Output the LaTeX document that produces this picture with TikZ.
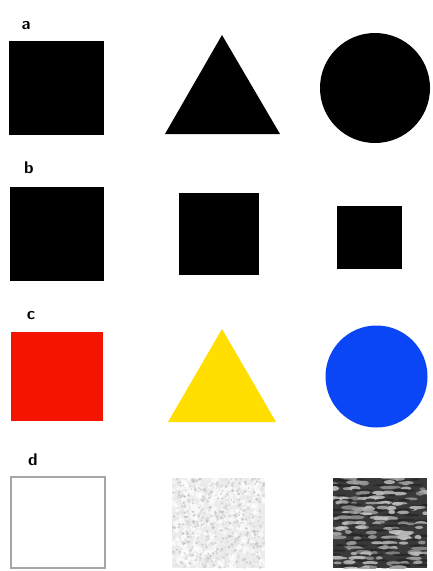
\documentclass[tikz,border=0pt]{standalone}
\begin{document}
\begin{tikzpicture}[x=1pt,y=-1pt,
  lbl/.style={font=\sffamily\bfseries\fontsize{17}{17}\selectfont, inner sep=0pt},
  solid/.style={fill=black}]
\useasboundingbox (0,0) rectangle (432,571);
\fill[white] (0,0) rectangle (432,571);
\definecolor{cred}{RGB}{245,20,0}
\definecolor{cyellow}{RGB}{255,222,0}
\definecolor{cblue}{RGB}{10,70,245}
% row a
\node[lbl] (la) at (26,26) {a};
\fill[solid] (9,41) rectangle (104,135);
\fill[solid] (222,35) -- (280,134) -- (165,134) -- cycle;
\fill[solid] (375,88) circle (55);
% row b
\node[lbl] (lb) at (29,168) {b};
\fill[solid] (10,187) rectangle (104,281);
\fill[solid] (179,193) rectangle (259,275);
\fill[solid] (337,206) rectangle (402,269);
% row c
\node[lbl] (lc) at (31,316) {c};
\fill[cred] (11,332) rectangle (103,421);
\fill[cyellow] (222,329) -- (276,422) -- (168,422) -- cycle;
\fill[cblue] (376.5,376.5) circle (51);
% row d
\node[lbl] (ld) at (33,460) {d};
\draw[gray!70, line width=1.3pt] (11,477) rectangle (105,568);
% noise square
\begin{scope}
\clip (172,478) rectangle (265,568);
\fill[gray!15] (172,478) rectangle (265,568);
\pgfmathsetseed{7}
\foreach \i in {1,...,250}{
  \pgfmathsetmacro{\px}{172+93*rnd}
  \pgfmathsetmacro{\py}{478+90*rnd}
  \pgfmathsetmacro{\pr}{1.5+2.0*rnd}
  \fill[white, opacity=0.6] (\px,\py) circle (\pr);
}
\foreach \i in {1,...,500}{
  \pgfmathsetmacro{\px}{172+93*rnd}
  \pgfmathsetmacro{\py}{478+90*rnd}
  \pgfmathsetmacro{\pr}{0.6+1.2*rnd}
  \pgfmathsetmacro{\pc}{22+30*rnd}
  \fill[gray!\pc, opacity=0.8] (\px,\py) circle (\pr);
}
\end{scope}
% dark texture square
\begin{scope}
\clip (333,478) rectangle (427,568);
\fill[gray!45!black] (333,478) rectangle (427,568);
\pgfmathsetseed{11}
\foreach \r in {0,...,18}{
  \foreach \k in {1,...,9}{
    \pgfmathsetmacro{\px}{333+94*rnd}
    \pgfmathsetmacro{\py}{477+5*\r+2*rnd}
    \pgfmathsetmacro{\ax}{3+6*rnd}
    \pgfmathsetmacro{\ay}{1.2+1.3*rnd}
    \pgfmathsetmacro{\pc}{5+55*rnd}
    \fill[white!\pc!gray, opacity=0.85] (\px,\py) ellipse (\ax pt and \ay pt);
  }
  \foreach \k in {1,...,6}{
    \pgfmathsetmacro{\px}{333+94*rnd}
    \pgfmathsetmacro{\py}{479.5+5*\r+1.5*rnd}
    \pgfmathsetmacro{\ax}{3+7*rnd}
    \fill[black!85, opacity=0.85] (\px,\py) ellipse (\ax pt and 1.1pt);
  }
}
\end{scope}
\end{tikzpicture}
\end{document}
